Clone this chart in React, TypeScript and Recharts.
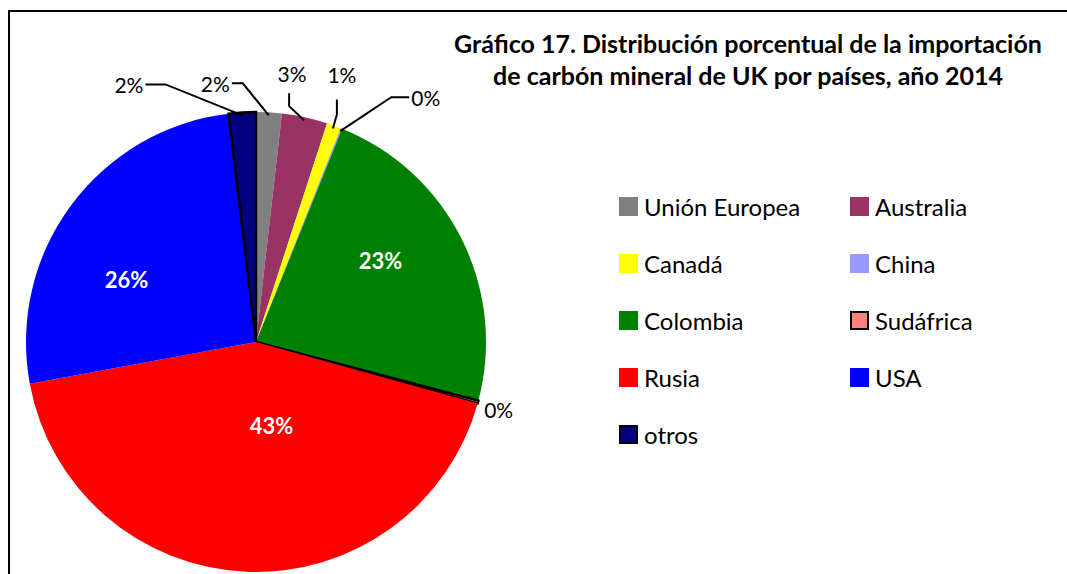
import { PieChart, Pie, Cell, Legend } from "recharts";

const paises = ["Unión Europea", "Australia", "Canadá", "China", "Colombia", "Sudáfrica", "Rusia", "USA", "otros"];
const participacion = [1.8, 3.2, 1.0, 0.1, 23.0, 0.2, 42.8, 26.0, 1.9];
const colores = ["#808080", "#993366", "#FFFF00", "#9999FF", "#008000", "#FF8080", "#FF0000", "#0000FF", "#000080"];
const conBorde = [false, false, false, false, false, true, false, false, true];

const FONT = "Lato, 'Open Sans', sans-serif";
const RADIAN = Math.PI / 180;

// where each label goes, relative to the point on the rim (outside) or the centroid (inside)
const labelLayout: Record<number, any> = {
  0: { elbow: [-26, -32], tail: [-11, 0], text: [-2, 0], anchor: "end" },
  1: { elbow: [-15, -14], tail: [0, -13], text: [3, -20], anchor: "middle" },
  2: { elbow: [4, -14], tail: [0, -15], text: [5, -25], anchor: "middle" },
  3: { elbow: [51, -34], tail: [18, 0], text: [2, 0], anchor: "start" },
  4: { inside: [-7, -15] },
  5: { elbow: [0, 0], tail: [0, 0], text: [9, 8], anchor: "start" },
  6: { inside: [22, -64] },
  7: { inside: [-11, 25] },
  8: { elbow: [-77, -31], tail: [-20, 0], text: [-2, 0], anchor: "end" },
};

const data = paises.map((name, i) => ({ name, value: participacion[i] }));

const renderLabel = (props: any) => {
  const { cx, cy, midAngle, outerRadius, index, value } = props;
  const cfg = labelLayout[index];
  const txt = `${Math.round(value)}%`;
  const cos = Math.cos(-midAngle * RADIAN);
  const sin = Math.sin(-midAngle * RADIAN);
  if (cfg.inside) {
    const r = outerRadius * 0.64;
    const x = cx + r * cos + cfg.inside[0];
    const y = cy + r * sin + cfg.inside[1];
    return (
      <text key={index} x={x} y={y} fill="#fff" fontSize={22} fontWeight="bold" fontFamily={FONT} textAnchor="middle" dominantBaseline="central">
        {txt}
      </text>
    );
  }
  const ax = cx + (outerRadius - 3) * cos;
  const ay = cy + (outerRadius - 3) * sin;
  const ex = ax + cfg.elbow[0];
  const ey = ay + cfg.elbow[1];
  const tx = ex + cfg.tail[0];
  const ty = ey + cfg.tail[1];
  const hasLine = cfg.elbow[0] !== 0 || cfg.elbow[1] !== 0;
  return (
    <g key={index}>
      {hasLine && <polyline points={`${ax},${ay} ${ex},${ey} ${tx},${ty}`} fill="none" stroke="#000" strokeWidth={2} />}
      <text x={tx + cfg.text[0]} y={ty + cfg.text[1]} fill="#000" fontSize={21} fontFamily={FONT} textAnchor={cfg.anchor} dominantBaseline="central">
        {txt}
      </text>
    </g>
  );
};

const renderLegend = (props: any) => {
  const items = [...(props.payload || [])].sort((a: any, b: any) => paises.indexOf(a.value) - paises.indexOf(b.value));
  return (
    <div style={{ display: "grid", gridTemplateColumns: "231px 200px", gridAutoRows: "57px", fontFamily: FONT }}>
      {items.map((entry: any) => {
        const i = paises.indexOf(entry.value);
        return (
          <div key={entry.value} style={{ display: "flex", alignItems: "center" }}>
            <span
              style={{
                width: 19,
                height: 19,
                boxSizing: "border-box",
                background: entry.color,
                border: conBorde[i] ? "2px solid #000" : "none",
                display: "inline-block",
              }}
            />
            <span style={{ marginLeft: 6, fontSize: 24, color: "#000" }}>{entry.value}</span>
          </div>
        );
      })}
    </div>
  );
};

export default function App() {
  return (
    <div style={{ position: "absolute", left: 0, top: 0, width: 1067, height: 574, background: "#fff", overflow: "hidden" }}>
      <div style={{ position: "absolute", left: 8, top: 10, width: 1100, height: 600, borderTop: "2.5px solid #000", borderLeft: "2.5px solid #000" }} />
      <div
        style={{
          position: "absolute",
          left: 398,
          top: 27,
          width: 700,
          textAlign: "center",
          fontFamily: FONT,
          fontWeight: "bold",
          fontSize: 25,
          lineHeight: "32px",
          color: "#000",
        }}
      >
        Gráfico 17. Distribución porcentual de la importación
        <br />
        de carbón mineral de UK por países, año 2014
      </div>
      <PieChart width={1067} height={574} margin={{ top: 0, right: 0, bottom: 0, left: 0 }}>
        <Pie
          data={data}
          dataKey="value"
          nameKey="name"
          cx={256}
          cy={342}
          outerRadius={230}
          startAngle={90}
          endAngle={-270}
          label={renderLabel}
          labelLine={false}
          isAnimationActive={false}
        >
          {data.map((d, i) => (
            <Cell key={d.name} fill={colores[i]} stroke={conBorde[i] ? "#000" : "none"} strokeWidth={conBorde[i] ? 2.5 : 0} />
          ))}
        </Pie>
        <Legend
          layout="vertical"
          align="right"
          verticalAlign="top"
          content={renderLegend}
          wrapperStyle={{ left: 619, top: 178, width: 440 }}
        />
      </PieChart>
    </div>
  );
}
